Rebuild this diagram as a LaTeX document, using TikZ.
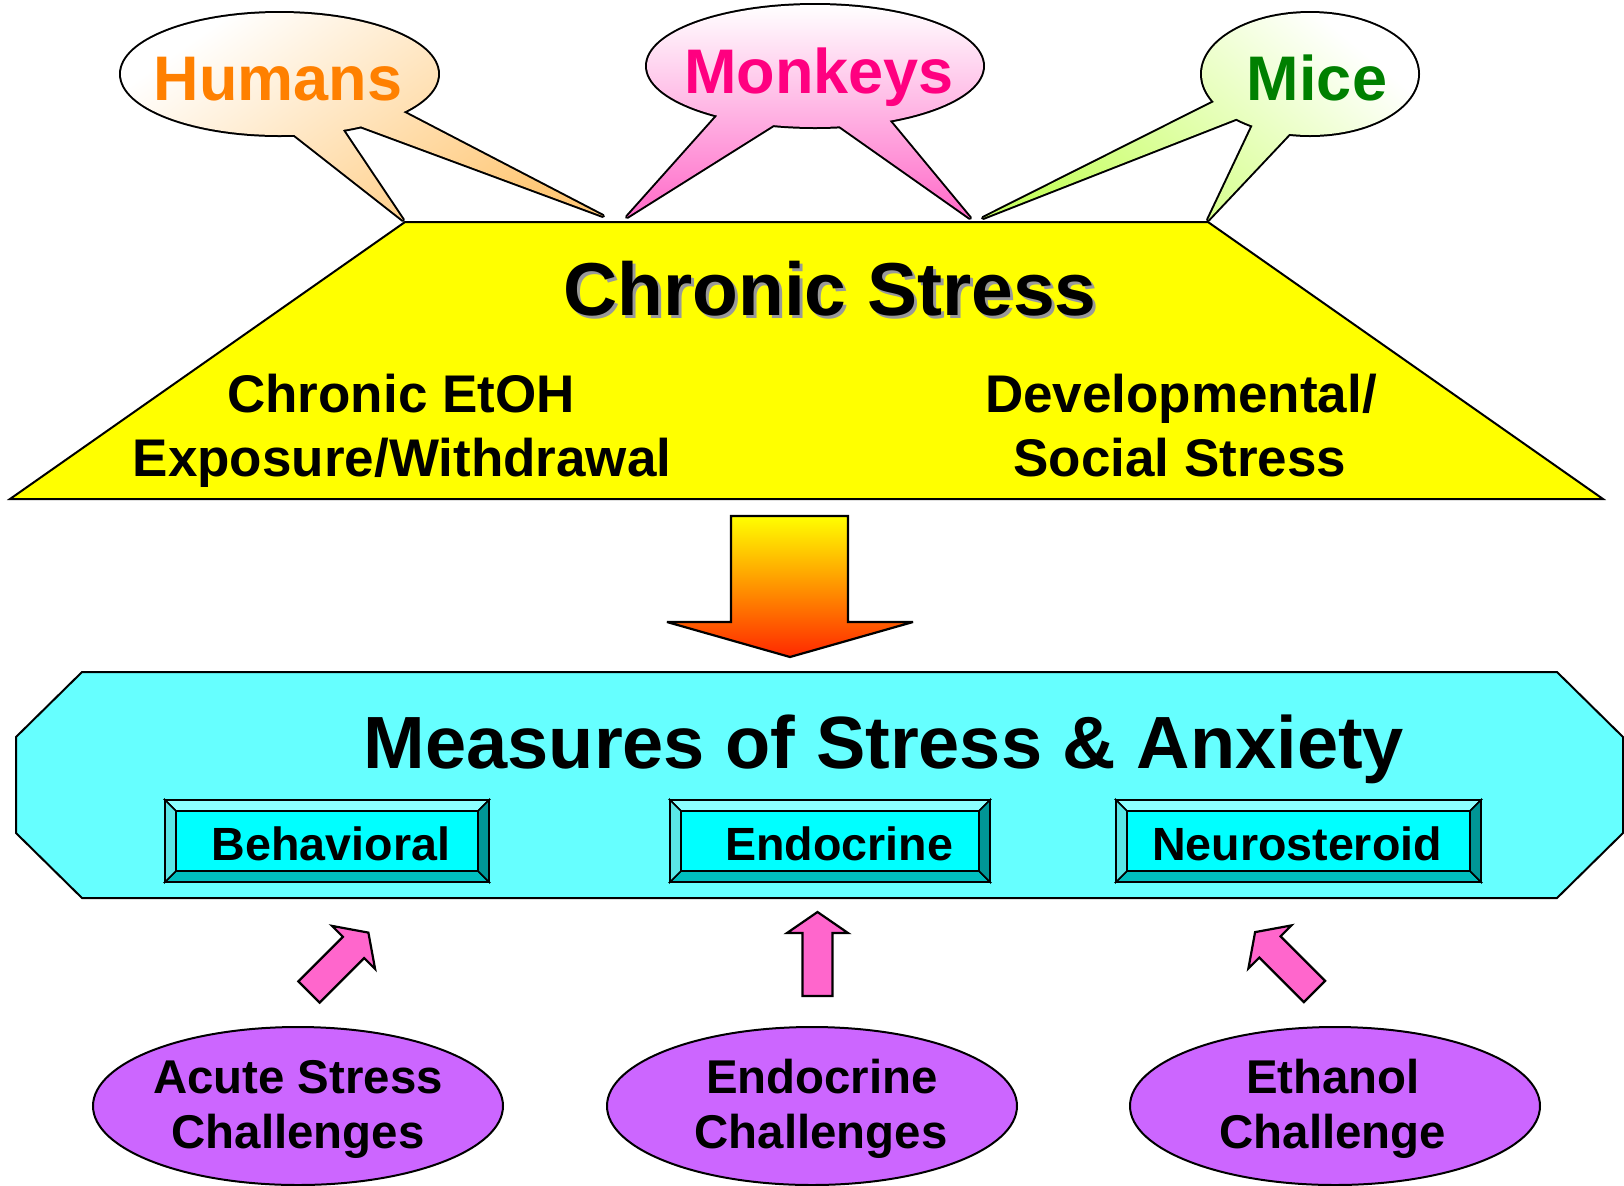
\documentclass[tikz,border=0pt]{standalone}
\usepackage{fontspec}
\setmainfont{Liberation Sans}
\usetikzlibrary{shapes.geometric}
\definecolor{humorange}{RGB}{255,200,120}
\definecolor{humtext}{RGB}{255,128,0}
\definecolor{monpink}{RGB}{255,105,200}
\definecolor{montext}{RGB}{255,0,128}
\definecolor{micegreen}{RGB}{200,255,100}
\definecolor{micetext}{RGB}{0,128,0}
\definecolor{cyanbg}{RGB}{102,255,255}
\definecolor{bevtop}{RGB}{140,255,255}
\definecolor{bevleft}{RGB}{90,230,230}
\definecolor{bevbot}{RGB}{0,190,190}
\definecolor{bevright}{RGB}{0,150,150}
\definecolor{bevin}{RGB}{0,255,255}
\definecolor{purp}{RGB}{204,102,255}
\definecolor{pinkarrow}{RGB}{255,102,204}
\definecolor{arrmid}{RGB}{255,176,0}
\definecolor{arrbot}{RGB}{255,40,0}
\definecolor{trapyellow}{RGB}{255,255,0}
\newcommand\bevbox[5]{%
  \fill[bevtop,draw=black,line width=0.8pt] (#1,#3) -- (#2,#3) -- ({#2-11},{#3+11}) -- ({#1+11},{#3+11}) -- cycle;
  \fill[bevbot,draw=black,line width=0.8pt] (#1,#4) -- (#2,#4) -- ({#2-11},{#4-11}) -- ({#1+11},{#4-11}) -- cycle;
  \fill[bevleft,draw=black,line width=0.8pt] (#1,#3) -- ({#1+11},{#3+11}) -- ({#1+11},{#4-11}) -- (#1,#4) -- cycle;
  \fill[bevright,draw=black,line width=0.8pt] (#2,#3) -- ({#2-11},{#3+11}) -- ({#2-11},{#4-11}) -- (#2,#4) -- cycle;
  \node[draw=black,line width=0.8pt,fill=bevin,inner sep=0,outer sep=0,
        minimum width={(#2-#1-22)*0.5pt},minimum height={(#4-#3-22)*0.5pt}]
        (#5) at ({(#1+#2)/2},{(#3+#4)/2}) {};
  \draw[line width=1.2pt] (#1,#3) rectangle (#2,#4);
}
\tikzset{
  callout/.style={preaction={draw=black,line width=2pt,line join=round}},
  lbl/.style={anchor=base,inner sep=0,font=\bfseries\fontsize{#1}{#1}\selectfont},
  lbl/.default=26.5,
  blockarrow/.style={fill=pinkarrow,draw=black,line width=1.1pt,line join=miter},
  challenge/.style={ellipse,draw=black,line width=1pt,fill=purp,inner sep=0,
    minimum width=205pt,minimum height=79pt}
}
\begin{document}
\begin{tikzpicture}[x=0.5pt,y=-0.5pt,line join=miter]
\useasboundingbox (0,0) rectangle (1624,1185);

% yellow trapezoid
\draw[fill=trapyellow,line width=1pt] (405,222) -- (1208,222) -- (1603,499) -- (10,499) -- cycle;
\node[lbl=37.5,text=black!40] (csshadow) at (833,318) {Chronic Stress};
\node[lbl=37.5] (cs) at (830,315) {Chronic Stress};
\node[lbl] (ce1) at (401,412) {Chronic EtOH};
\node[lbl] (ce2) at (402,476) {Exposure/Withdrawal};
\node[lbl] (ds1) at (1181,412) {Developmental/};
\node[lbl] (ds2) at (1180,476) {Social Stress};

% callouts
\shade[callout,top color=white,bottom color=humorange,shading angle=35]
  (438,74) arc[start angle=0,end angle=360,x radius=158.5,y radius=61]
  (292,133) -- (342,129) -- (403,220) -- cycle
  (360,126) -- (403,112) -- (603,216) -- cycle;
\node[lbl=31.5,text=humtext] (humans) at (278,100) {Humans};

\shade[callout,top color=white,bottom color=monpink]
  (983,66) arc[start angle=0,end angle=360,x radius=168,y radius=61]
  (718,115) -- (775,124) -- (627,217) -- cycle
  (838,125) -- (888,119) -- (970,218) -- cycle;
\node[lbl=31.5,text=montext] (monkeys) at (819,93) {Monkeys};

\shade[callout,top color=white,bottom color=micegreen,shading angle=-40]
  (1418,74) arc[start angle=0,end angle=360,x radius=108,y radius=61]
  (1216,101) -- (1238,118) -- (983,218) -- cycle
  (1253,125) -- (1290,133) -- (1208,220) -- cycle;
\node[lbl=31.5,text=micetext] (mice) at (1317,100) {Mice};

% big gradient arrow
\shade[draw=black,line width=1.1pt,miter limit=2.5,top color=trapyellow,middle color=arrmid,bottom color=arrbot]
  (731,516) -- (848,516) -- (848,622) -- (913,622) -- (790,657) -- (667,622) -- (731,622) -- cycle;

% cyan octagon
\draw[fill=cyanbg,line width=1pt] (82,672) -- (1557,672) -- (1623,737) -- (1623,833)
  -- (1557,898) -- (82,898) -- (16,833) -- (16,737) -- cycle;
\node[lbl=37] (measures) at (884,768) {Measures of Stress \& Anxiety};

\bevbox{165}{489}{800}{882}{behbox}
\bevbox{670}{990}{800}{882}{endbox}
\bevbox{1116}{1481}{800}{882}{neubox}
\node[lbl=23.3] (beh) at (331,860) {Behavioral};
\node[lbl=23.3] (endo) at (839,860) {Endocrine};
\node[lbl=23.3] (neuro) at (1297,860) {Neurosteroid};

% pink block arrows
\begin{scope}[shift={(309,992)},rotate=-45]
  \draw[blockarrow] (-15,0) -- (-15,-63) -- (-30.5,-63) -- (0,-84) -- (30.5,-63) -- (15,-63) -- (15,0) -- cycle;
\end{scope}
\begin{scope}[shift={(817.5,996)}]
  \draw[blockarrow] (-15,0) -- (-15,-63) -- (-30.5,-63) -- (0,-84) -- (30.5,-63) -- (15,-63) -- (15,0) -- cycle;
\end{scope}
\begin{scope}[shift={(1314.5,991.5)},rotate=45]
  \draw[blockarrow] (-15,0) -- (-15,-63) -- (-30.5,-63) -- (0,-84) -- (30.5,-63) -- (15,-63) -- (15,0) -- cycle;
\end{scope}

% challenge ellipses
\node[challenge] (acute) at (298,1106) {};
\node[challenge] (endoch) at (812,1106) {};
\node[challenge] (ethanol) at (1335,1106) {};
\node[lbl=23.7] (a1) at (298,1093) {Acute Stress};
\node[lbl=23.7] (a2) at (298,1148) {Challenges};
\node[lbl=23.7] (e1) at (822,1093) {Endocrine};
\node[lbl=23.7] (e2) at (821,1148) {Challenges};
\node[lbl=23.7] (t1) at (1333,1093) {Ethanol};
\node[lbl=23.7] (t2) at (1333,1148) {Challenge};
\end{tikzpicture}
\end{document}
